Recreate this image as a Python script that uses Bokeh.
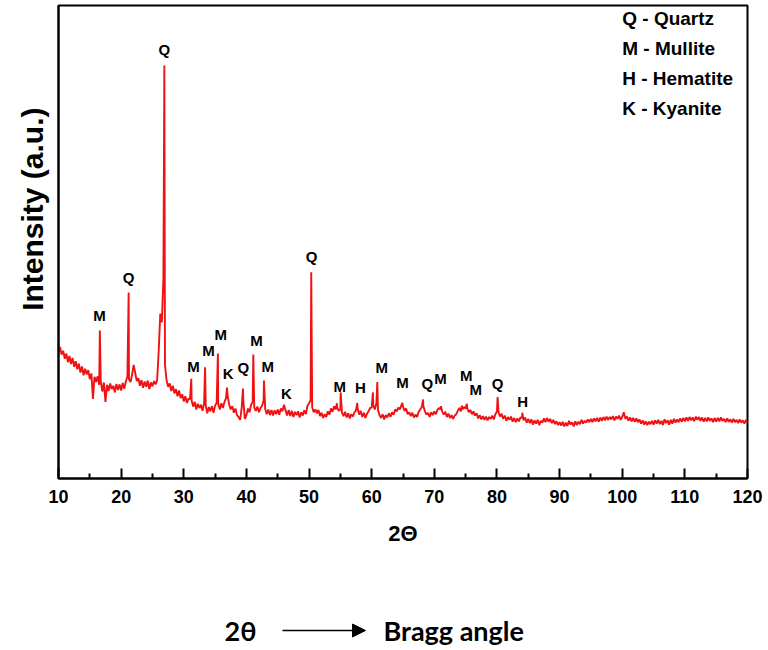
import numpy as np
from bokeh.plotting import figure
from bokeh.layouts import column
from bokeh.models import FixedTicker, Arrow, NormalHead, Range1d, Title
from bokeh.core.properties import value
from bokeh.embed import file_html
from bokeh.resources import INLINE

# ---------------- data ----------------
# background scan, read every 0.25 deg from 10 to 120 deg (2-theta), intensity in a.u. (0-100 scale)
scan_start, scan_step = 10.0, 0.25
scan_10_30 = [
    26.5, 27.8, 26.2, 27.0, 25.3, 26.4, 24.6, 25.9, 24.2, 25.5, 23.6, 24.8, 23.1, 24.3, 22.4, 23.7, 21.8, 23.2, 22.0, 22.9,
    21.0, 22.2, 16.8, 21.5, 20.4, 21.6, 19.8, 20.5, 18.4, 20.3, 16.2, 19.8, 18.5, 20.1, 18.9, 19.6, 18.2, 20.0, 18.7, 19.9,
    18.6, 20.2, 19.0, 20.5, 21.5, 21.0, 20.4, 22.0, 24.0, 22.3, 20.6, 21.2, 19.6, 20.8, 19.2, 20.5, 19.4, 20.7, 18.9, 20.3,
    19.5, 20.6, 19.9, 20.8, 27.0, 34.9, 33.0, 42.5, 24.0, 20.8, 19.4, 20.1, 18.5, 19.6, 18.0, 18.9, 17.4, 18.6, 17.0, 17.8,
]
scan_30_50 = [
    16.3, 17.4, 16.0, 16.9, 16.8, 16.5, 15.2, 16.2, 14.6, 15.8, 14.9, 15.6, 14.3, 16.0, 15.5, 13.8, 15.1, 14.2, 15.3, 13.9,
    15.4, 16.0, 15.8, 14.6, 15.9, 14.9, 16.2, 17.0, 17.5, 15.6, 14.6, 15.3, 13.9, 14.8, 13.4, 13.0, 12.4, 15.0, 16.5, 12.6,
    13.4, 14.8, 14.0, 15.6, 16.2, 15.0, 14.3, 15.2, 14.0, 14.9, 15.4, 16.5, 14.7, 13.6, 14.6, 13.4, 14.5, 13.3, 14.4, 13.6,
    14.6, 13.5, 14.8, 14.2, 15.6, 14.4, 13.3, 14.5, 13.2, 14.3, 13.0, 14.1, 13.4, 14.2, 12.9, 14.0, 13.3, 14.4, 13.6, 15.4,
]
scan_50_70 = [
    15.9, 16.5, 15.0, 14.0, 14.6, 13.8, 14.5, 13.2, 13.9, 12.8, 13.6, 13.0, 14.2, 13.5, 14.8, 14.1, 15.3, 14.6, 15.0, 14.3,
    14.6, 14.0, 13.2, 14.1, 12.9, 13.8, 12.7, 13.6, 13.1, 14.0, 14.4, 14.9, 13.5, 14.3, 13.0, 13.9, 12.8, 13.7, 14.2, 14.9,
    15.0, 15.5, 14.6, 15.9, 14.5, 13.4, 12.8, 13.6, 12.5, 13.4, 12.9, 13.8, 13.0, 14.0, 13.5, 14.6, 14.2, 15.0, 14.6, 15.5,
    15.2, 14.3, 14.8, 13.6, 14.0, 13.2, 13.9, 12.9, 13.5, 13.0, 14.1, 14.6, 15.1, 15.3, 14.2, 13.5, 13.9, 13.0, 14.0, 13.4,
]
scan_70_90 = [
    14.2, 13.6, 14.5, 14.9, 14.6, 14.2, 13.5, 14.1, 13.0, 13.7, 12.8, 13.4, 12.6, 13.3, 13.6, 14.3, 14.9, 14.2, 14.6, 15.1,
    14.8, 14.9, 14.0, 14.5, 13.6, 14.2, 13.3, 13.8, 12.7, 13.4, 12.5, 13.2, 12.4, 13.1, 12.3, 13.0, 12.6, 13.3, 12.5, 13.6,
    14.2, 14.0, 13.1, 13.7, 12.6, 13.3, 12.2, 13.0, 12.4, 13.1, 12.0, 12.8, 11.9, 12.7, 12.1, 12.9, 12.8, 12.3, 12.9, 11.8,
    12.6, 11.7, 12.5, 11.4, 12.3, 11.6, 12.4, 11.3, 12.2, 11.8, 12.7, 11.9, 12.8, 12.0, 12.6, 11.7, 12.4, 11.5, 12.1, 11.3,
]
scan_90_120 = [
    11.9, 11.2, 12.0, 11.0, 11.8, 11.1, 12.2, 11.4, 11.9, 11.0, 12.1, 11.3, 12.0, 11.5, 12.4, 11.6, 12.2, 11.8, 12.5, 11.9,
    12.6, 11.9, 12.7, 12.1, 12.8, 12.0, 12.9, 12.2, 13.0, 12.3, 13.1, 12.4, 13.0, 12.5, 13.2, 12.3, 13.1, 12.6, 13.3, 12.4,
    13.0, 14.0, 12.6, 13.1, 12.2, 12.9, 12.1, 12.8, 12.0, 12.7, 11.9, 12.5, 11.6, 12.3, 11.4, 12.1, 11.3, 12.0, 11.5, 12.2,
    11.4, 12.3, 11.6, 12.4, 11.5, 12.2, 11.3, 12.5, 11.7, 12.3, 11.4, 12.4, 11.6, 12.6, 11.8, 12.5, 11.9, 12.7, 12.0, 12.8,
    12.1, 12.9, 12.2, 13.0, 12.3, 12.9, 12.1, 13.1, 12.4, 13.0, 12.2, 12.9, 12.0, 12.8, 12.1, 12.9, 12.2, 12.7, 11.9, 12.8,
    12.0, 12.8, 12.1, 12.9, 12.2, 12.6, 11.9, 12.7, 12.0, 12.5, 11.8, 12.6, 11.9, 12.4, 11.7, 12.5, 11.8, 12.3, 11.6, 12.4,
    11.9,
]

# sharp reflections: apex position (2-theta) and apex intensity
peak_2theta = [16.6, 21.2, 26.9, 31.2, 33.4, 35.45, 36.9, 39.45, 41.1, 42.8, 50.3, 50.35,
               54.45, 55.05, 57.7, 60.2, 60.9, 64.9, 68.2, 71.05, 74.4, 75.2, 80.1, 84.05]
peak_top = [31.3, 39.3, 87.3, 21.1, 23.5, 26.4, 19.2, 19.0, 26.2, 20.7, 29.8, 43.6,
            15.9, 18.2, 16.0, 18.2, 20.4, 16.0, 16.7, 15.3, 15.4, 15.8, 17.2, 13.9]

# phase labels above the reflections
label_phase = ["M", "Q", "Q", "M", "M", "M", "K", "Q", "M", "M", "K", "Q",
               "M", "H", "M", "M", "Q", "M", "M", "M", "Q", "H"]
label_2theta = [16.55, 21.2, 26.9, 31.55, 33.95, 35.9, 37.1, 39.5, 41.6, 43.4, 46.4, 50.4,
                54.9, 58.2, 61.6, 64.9, 68.9, 71.0, 75.1, 76.6, 80.1, 84.1]
label_level = [34.5, 42.5, 90.6, 23.7, 27.1, 30.4, 22.2, 23.5, 29.2, 23.7, 18.0, 46.9,
               19.5, 19.2, 23.5, 20.3, 20.1, 21.1, 21.8, 18.8, 20.1, 16.3]

legend_entries = ["Q - Quartz", "M - Mullite", "H - Hematite", "K - Kyanite"]

x_ticks = [10, 20, 30, 40, 50, 60, 70, 80, 90, 100, 110, 120]
x_minor_ticks = [15, 25, 35, 45, 55, 65, 75, 85, 95, 105, 115]

# ---------------- build series ----------------
scan_y = np.array(scan_10_30 + scan_30_50 + scan_50_70 + scan_70_90 + scan_90_120)
scan_x = scan_start + scan_step * np.arange(len(scan_y))
all_x = np.concatenate([scan_x, np.array(peak_2theta)])
all_y = np.concatenate([scan_y, np.array(peak_top)])
order = np.argsort(all_x, kind="stable")
all_x, all_y = all_x[order], all_y[order]

FONT = "Liberation Sans"

p = figure(width=768, height=590, x_range=Range1d(10, 120), y_range=Range1d(0, 100),
           output_backend="svg", toolbar_location=None,
           min_border_left=58, min_border_right=21, min_border_top=5, min_border_bottom=112)
p.background_fill_color = "white"
p.border_fill_color = "white"
p.outline_line_color = "black"
p.outline_line_width = 2
p.grid.visible = False

p.line(all_x, all_y, line_color="#f01212", line_width=1.9)

p.text(x=label_2theta, y=label_level, text=label_phase,
       text_font=value(FONT), text_font_style="bold", text_font_size=value("15px"),
       text_align="center", text_baseline="middle", text_color="black")

leg_y = [97.2 - 6.35 * i for i in range(len(legend_entries))]
p.text(x=[100.0] * len(legend_entries), y=leg_y, text=legend_entries,
       text_font=value(FONT), text_font_style="bold", text_font_size=value("19px"),
       text_align="left", text_baseline="middle", text_color="black")

xa = p.xaxis[0]
xa.ticker = FixedTicker(ticks=x_ticks, minor_ticks=x_minor_ticks)
xa.major_tick_in = 10
xa.major_tick_out = 0
xa.minor_tick_in = 5
xa.minor_tick_out = 0
xa.axis_line_width = 2
xa.major_tick_line_width = 2
xa.minor_tick_line_width = 2
xa.axis_line_color = "black"
xa.major_tick_line_color = "black"
xa.minor_tick_line_color = "black"
xa.major_label_text_font = FONT
xa.major_label_text_font_style = "bold"
xa.major_label_text_font_size = "18px"
xa.major_label_text_color = "black"
xa.major_label_standoff = 11
xa.axis_label = "2Θ"
xa.axis_label_text_font = FONT
xa.axis_label_text_font_style = "bold"
xa.axis_label_text_font_size = "22px"
xa.axis_label_text_color = "black"
xa.axis_label_standoff = 15

ya = p.yaxis[0]
ya.ticker = FixedTicker(ticks=[])
ya.major_tick_line_color = None
ya.minor_tick_line_color = None
ya.axis_line_width = 2
ya.axis_line_color = "black"

# y-axis title as a side title, aligned toward the top of the frame
p.add_layout(Title(text="Intensity (a.u.)", align="right", offset=102, standoff=20,
                   text_font=FONT, text_font_style="bold", text_font_size="30px",
                   text_color="black"), "left")

# bottom note: 2θ -> Bragg angle (x in page pixels of the aligned frame)
p2 = figure(width=768, height=60, x_range=Range1d(58, 747), y_range=Range1d(0, 60),
            output_backend="svg", toolbar_location=None,
            x_axis_location=None, y_axis_location=None,
            min_border_left=0, min_border_right=0, min_border_top=0, min_border_bottom=0)
p2.outline_line_color = None
p2.grid.visible = False
p2.text(x=[240], y=[20], text=["2θ"], text_font=value("Lato"), text_font_style="bold",
        text_font_size=value("27px"), text_align="center", text_baseline="middle", text_color="black")
p2.text(x=[383], y=[20], text=["Bragg angle"], text_font=value("Lato"), text_font_style="bold",
        text_font_size=value("27px"), text_align="left", text_baseline="middle", text_color="black")
p2.add_layout(Arrow(end=NormalHead(size=13, fill_color="black", line_color="black"),
                    x_start=282, y_start=20, x_end=365, y_end=20,
                    line_width=1.5, line_color="black"))

layout = column(p, p2, spacing=0)
open("out.html", "w").write(file_html(layout, INLINE))
